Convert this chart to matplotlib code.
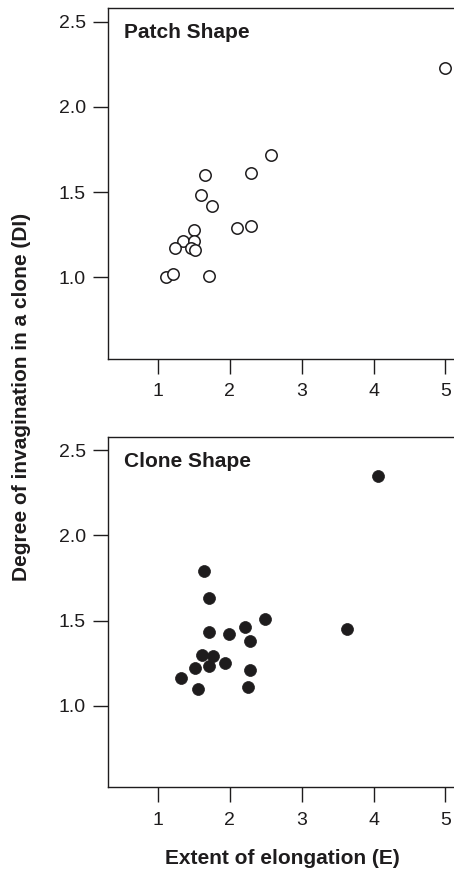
import matplotlib
matplotlib.use('Agg')
import matplotlib.pyplot as plt

plt.rcParams['font.family'] = ['Liberation Sans', 'DejaVu Sans']

# Patch shape (open circles)
patch_E = [5.00, 2.57, 1.66, 2.30, 1.60, 1.75, 2.10, 2.30, 1.50, 1.35, 1.51,
           1.24, 1.46, 1.52, 1.12, 1.21, 1.72]
patch_DI = [2.23, 1.72, 1.60, 1.61, 1.48, 1.42, 1.29, 1.30, 1.28, 1.21, 1.21,
            1.17, 1.17, 1.16, 1.00, 1.02, 1.01]

# Clone shape (filled circles)
clone_E = [4.06, 1.65, 1.72, 2.49, 3.63, 2.21, 1.72, 1.99, 2.29, 1.62, 1.77,
           1.72, 1.93, 1.52, 1.33, 1.56, 2.28, 2.25]
clone_DI = [2.35, 1.79, 1.63, 1.51, 1.45, 1.46, 1.43, 1.42, 1.38, 1.30, 1.29,
            1.23, 1.25, 1.22, 1.16, 1.10, 1.21, 1.11]

xticks = [1, 2, 3, 4, 5]
yticks = [1.0, 1.5, 2.0, 2.5]
ink = '#1e1c1d'

fig = plt.figure(figsize=(4.54, 8.72), dpi=100)
ax1 = fig.add_axes([108/454, 1-359/872, 349/454, 351/872])
ax2 = fig.add_axes([108/454, 1-787.3/872, 349/454, 350.6/872])

ax1.plot(patch_E, patch_DI, 'o', ms=8.2, mfc='white', mec=ink, mew=1.1)
ax2.plot(clone_E, clone_DI, 'o', ms=8.6, mfc=ink, mec=ink, mew=0.5)

for ax, title in [(ax1, 'Patch Shape'), (ax2, 'Clone Shape')]:
    ax.set_xlim(0.31, 5.16)
    ax.set_ylim(0.52, 2.58)
    ax.set_xticks(xticks)
    ax.set_xticklabels([str(v) for v in xticks])
    ax.set_yticks(yticks)
    ax.set_yticklabels(['%.1f' % v for v in yticks])
    ax.tick_params(direction='out', length=10.5, width=1.0, color=ink,
                   labelsize=14, labelcolor=ink)
    ax.tick_params(axis='x', pad=7)
    ax.tick_params(axis='y', pad=5.5)
    for s in ax.spines.values():
        s.set_linewidth(1.0)
        s.set_color(ink)
    ax.text(0.046, 0.957, title, transform=ax.transAxes, ha='left', va='top',
            fontsize=15, fontweight='bold', color=ink)

fig.text(22/454, 1-397/872, 'Degree of invagination in a clone (DI)',
         rotation=90, ha='center', va='center', fontsize=15,
         fontweight='bold', color=ink)
fig.text(282/454, 1-858/872, 'Extent of elongation (E)', ha='center',
         va='center', fontsize=15, fontweight='bold', color=ink)

fig.savefig('out.png', dpi=100)
